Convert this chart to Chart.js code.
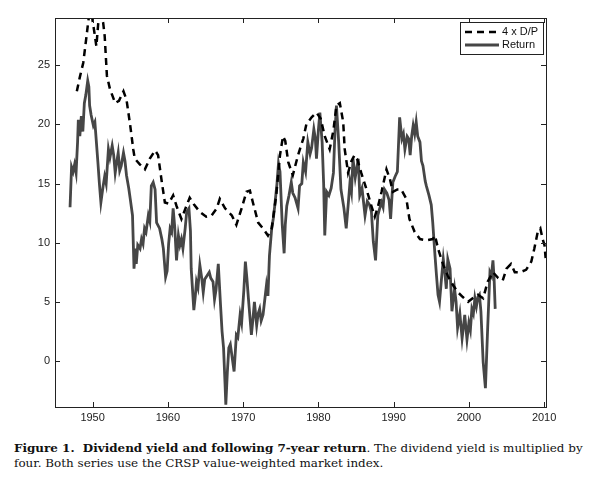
<!DOCTYPE html>
<html>
<head>
<meta charset="utf-8">
<script src="https://cdn.jsdelivr.net/npm/chart.js@4/dist/chart.umd.min.js"></script>
<style>
  body { margin: 0; background: #fff; }
  #wrap { position: relative; width: 600px; height: 486px; }
  #chart { position: absolute; left: 0; top: 0; }
  #caption {
    position: absolute; left: 14px; top: 441px; width: 586px;
    font-family: "DejaVu Serif", serif; font-size: 12.3px; line-height: 14.5px;
    color: #111; white-space: nowrap;
  }
</style>
</head>
<body>
<div id="wrap">
  <canvas id="chart" width="600" height="432"></canvas>
  <div id="caption"><span id="line1"><b>Figure 1.&nbsp; Dividend yield and following 7-year return</b>. The dividend yield is multiplied by</span><br>four. Both series use the CRSP value-weighted market index.</div>
</div>
<script>
// Return series (7-year forward return)
const retYears = [
  1947.0, 1947.2, 1947.4, 1947.6, 1947.8, 1948.0, 1948.1, 1948.3, 1948.5, 1948.7, 1948.9, 1949.1, 1949.35, 1949.5, 1949.6, 1949.8,
  1950.1, 1950.3, 1950.5, 1950.7, 1950.9, 1951.1, 1951.4, 1951.6, 1951.8, 1952.1, 1952.3, 1952.6, 1952.8, 1953.0, 1953.2, 1953.4,
  1953.6, 1953.8, 1954.1, 1954.3, 1954.5, 1954.8, 1955.0, 1955.3, 1955.5, 1955.7, 1955.8, 1956.0, 1956.3, 1956.5, 1956.7, 1956.9,
  1957.1, 1957.4, 1957.6, 1957.8, 1958.05, 1958.3, 1958.5, 1958.9, 1959.2, 1959.4, 1959.7, 1959.9, 1960.1, 1960.3, 1960.5, 1960.7,
  1960.9, 1961.15, 1961.4, 1961.6, 1961.8, 1962.0, 1962.3, 1962.5, 1962.8, 1963.0, 1963.1, 1963.45, 1963.65, 1963.8, 1964.0, 1964.25,
  1964.5, 1964.7, 1964.9, 1965.2, 1965.5, 1965.7, 1966.0, 1966.2, 1966.4, 1966.7, 1967.0, 1967.2, 1967.4, 1967.6, 1967.7, 1967.9,
  1968.1, 1968.3, 1968.5, 1968.8, 1969.1, 1969.3, 1969.6, 1969.8, 1970.1, 1970.3, 1970.5, 1970.7, 1971.1, 1971.3, 1971.5, 1971.8,
  1972.0, 1972.2, 1972.4, 1972.65, 1972.9, 1973.1, 1973.3, 1973.5, 1973.8, 1974.0, 1974.2, 1974.5, 1974.7, 1974.9, 1975.2, 1975.45,
  1975.6, 1975.8, 1976.1, 1976.4, 1976.6, 1976.9, 1977.3, 1977.5, 1977.8, 1978.0, 1978.3, 1978.6, 1978.9, 1979.1, 1979.4, 1979.6,
  1979.75, 1980.0, 1980.2, 1980.5, 1980.7, 1980.85, 1981.1, 1981.4, 1981.7, 1982.0, 1982.2, 1982.4, 1982.7, 1983.0, 1983.4, 1983.7,
  1984.0, 1984.2, 1984.4, 1984.6, 1984.9, 1985.3, 1985.5, 1985.8, 1986.2, 1986.5, 1986.8, 1987.05, 1987.3, 1987.6, 1987.9, 1988.1,
  1988.4, 1988.6, 1988.8, 1989.1, 1989.4, 1989.6, 1989.9, 1990.2, 1990.5, 1990.8, 1991.1, 1991.3, 1991.5, 1991.8, 1992.0, 1992.2,
  1992.4, 1992.6, 1992.8, 1993.0, 1993.2, 1993.5, 1993.7, 1993.9, 1994.2, 1994.35, 1994.7, 1995.0, 1995.2, 1995.5, 1995.7, 1995.9,
  1996.1, 1996.3, 1996.6, 1996.8, 1997.0, 1997.2, 1997.5, 1997.75, 1998.1, 1998.3, 1998.5, 1998.8, 1999.1, 1999.3, 1999.45, 1999.75,
  2000.0, 2000.2, 2000.4, 2000.6, 2000.8, 2001.0, 2001.2, 2001.4, 2001.6, 2001.9, 2002.2, 2002.5, 2002.8, 2003.0, 2003.2, 2003.35,
  2003.5
];
const retValues = [
  13.0, 16.4, 16.0, 16.6, 15.9, 18.5, 20.4, 19.0, 20.7, 19.4, 21.8, 22.5, 23.7, 23.2, 21.6, 20.8,
  19.9, 20.2, 18.5, 16.8, 15.0, 13.4, 14.8, 15.6, 15.0, 17.9, 17.2, 18.2, 17.4, 15.9, 16.8, 17.6,
  16.1, 16.5, 17.6, 16.9, 15.7, 14.6, 13.7, 12.3, 7.8, 9.5, 8.2, 9.8, 9.5, 10.3, 9.9, 11.2,
  10.9, 12.3, 11.8, 14.8, 15.1, 14.5, 11.7, 11.2, 10.3, 9.5, 7.1, 7.6, 9.9, 11.2, 10.9, 12.9,
  11.4, 8.5, 10.6, 9.8, 10.3, 9.5, 11.2, 12.6, 12.9, 11.0, 7.8, 4.3, 5.5, 6.7, 6.2, 8.1,
  7.0, 5.8, 6.9, 7.2, 7.5, 7.0, 6.7, 5.2, 6.0, 8.2, 4.7, 2.5, 1.1, -2.0, -3.7, -1.0,
  1.1, 1.4, 0.5, -0.9, 2.2, 2.0, 3.9, 3.2, 6.0, 8.4, 7.0, 5.3, 2.2, 3.5, 5.0, 3.0,
  4.0, 4.4, 3.4, 3.9, 5.3, 6.4, 5.5, 8.9, 11.2, 12.0, 13.1, 15.0, 16.7, 16.0, 11.5, 9.1,
  11.5, 13.1, 14.0, 15.1, 14.2, 13.8, 12.9, 14.8, 15.0, 16.8, 16.0, 18.5, 17.5, 18.0, 19.6, 18.8,
  17.1, 19.5, 21.0, 18.5, 15.0, 10.6, 14.3, 14.0, 14.6, 15.9, 19.3, 21.6, 18.5, 14.5, 12.9, 11.2,
  13.5, 15.1, 14.3, 17.1, 15.5, 17.1, 14.0, 14.6, 12.3, 13.5, 13.2, 12.6, 10.1, 8.5, 12.3, 12.8,
  13.4, 13.0, 14.5, 14.2, 13.6, 12.0, 15.1, 15.6, 16.0, 20.6, 18.8, 19.2, 17.9, 19.0, 18.8, 17.4,
  19.0, 19.9, 19.2, 20.2, 19.0, 18.5, 16.9, 16.5, 15.2, 14.8, 14.0, 13.2, 11.7, 8.9, 7.2, 5.6,
  5.0, 6.5, 8.6, 7.5, 6.1, 8.6, 7.8, 4.2, 6.1, 5.0, 2.8, 4.0, 1.9, 3.0, 3.9, 1.8,
  3.2, 2.6, 4.4, 4.0, 5.3, 4.6, 5.4, 5.6, 4.2, -0.1, -2.3, 2.8, 7.5, 7.2, 8.5, 7.0,
  4.4
];

// 4 x dividend/price series
const dpYears = [
  1947.9, 1948.3, 1948.75, 1949.2, 1949.4, 1949.6, 1949.9, 1950.3, 1950.5, 1950.75, 1951.1, 1951.4, 1951.6, 1951.9, 1952.3, 1953.0,
  1953.5, 1954.1, 1954.5, 1955.0, 1955.4, 1955.6, 1956.3, 1956.95, 1957.6, 1958.3, 1958.7, 1959.2, 1959.6, 1960.1, 1960.7, 1961.15,
  1961.8, 1962.4, 1962.9, 1963.5, 1964.25, 1965.1, 1965.8, 1966.5, 1966.9, 1967.6, 1968.5, 1969.1, 1969.8, 1970.45, 1970.9, 1971.3,
  1972.0, 1972.65, 1973.3, 1973.8, 1974.4, 1974.9, 1975.3, 1975.6, 1976.0, 1976.6, 1977.3, 1978.0, 1978.4, 1979.1, 1979.75, 1980.3,
  1980.85, 1981.5, 1982.0, 1982.4, 1982.85, 1983.3, 1983.5, 1983.95, 1984.4, 1984.8, 1985.2, 1985.7, 1986.4, 1987.05, 1987.5, 1987.9,
  1988.4, 1989.05, 1989.5, 1989.9, 1990.5, 1991.0, 1991.7, 1992.1, 1992.8, 1993.5, 1994.35, 1995.2, 1995.5, 1995.9, 1996.6, 1997.2,
  1997.9, 1998.55, 1999.2, 1999.9, 2000.5, 2001.2, 2001.9, 2002.5, 2003.2, 2003.9, 2004.5, 2005.0, 2005.6, 2006.1, 2006.8, 2007.6,
  2008.3, 2008.7, 2009.15, 2009.5, 2009.8, 2010.05, 2010.2
];
const dpValues = [
  22.8, 24.0, 25.2, 27.5, 28.6, 29.5, 29.2, 27.5, 26.6, 28.6, 29.3, 28.6, 27.5, 24.1, 23.0, 21.8,
  22.0, 22.8, 22.1, 19.9, 17.9, 17.1, 16.6, 16.2, 17.1, 17.8, 17.4, 15.1, 13.4, 13.3, 14.0, 13.1,
  12.0, 13.0, 13.8, 13.2, 12.6, 12.2, 12.3, 12.9, 13.7, 12.9, 12.3, 11.5, 12.9, 14.3, 14.4, 13.4,
  11.7, 11.2, 10.6, 11.2, 14.0, 17.4, 19.0, 18.6, 16.8, 15.7, 17.4, 18.8, 20.0, 20.6, 21.0, 20.5,
  19.0, 17.9, 19.5, 21.6, 21.8, 20.2, 17.9, 15.9, 16.9, 17.4, 17.0, 15.9, 14.5, 13.1, 12.2, 13.0,
  14.3, 16.2, 15.4, 14.3, 14.5, 14.5, 13.7, 12.0, 10.9, 10.3, 10.2, 10.3, 10.6, 9.5, 8.1, 7.2,
  6.4, 5.8, 5.4, 5.0, 5.3, 5.6, 5.3, 6.7, 7.5, 7.0, 6.8, 7.8, 8.2, 7.5, 7.5, 7.7,
  8.4, 9.5, 10.9, 11.2, 10.3, 9.8, 8.7
];

// Axis ticks
const xTicks = [1950, 1960, 1970, 1980, 1990, 2000, 2010];
const yTicks = [0, 5, 10, 15, 20, 25];

const toPoints = (xs, ys) => xs.map((x, i) => ({ x: x, y: ys[i] }));

const DP_DASH = [7, 5];
const RET_COLOR = '#464646';

// Box frame with inward ticks on all four sides, plus the legend inside the plot
const framePlugin = {
    id: 'frame',
    afterDraw(chart) {
        const ctx = chart.ctx;
        const { left, right, top, bottom } = chart.chartArea;
        const xs = chart.scales.x, ys = chart.scales.y;
        ctx.save();
        ctx.strokeStyle = '#222';
        ctx.lineWidth = 1;
        ctx.strokeRect(Math.round(left) + 0.5, Math.round(top) + 0.5, Math.round(right - left), Math.round(bottom - top));
        ctx.beginPath();
        xTicks.forEach(v => {
            const px = Math.round(xs.getPixelForValue(v)) + 0.5;
            ctx.moveTo(px, bottom); ctx.lineTo(px, bottom - 5);
            ctx.moveTo(px, top); ctx.lineTo(px, top + 5);
        });
        yTicks.forEach(v => {
            const py = Math.round(ys.getPixelForValue(v)) + 0.5;
            ctx.moveTo(left, py); ctx.lineTo(left + 5, py);
            ctx.moveTo(right, py); ctx.lineTo(right - 5, py);
        });
        ctx.stroke();

        // legend
        const bx = 460.5, by = 22.5, bw = 83, bh = 32;
        ctx.fillStyle = '#fff';
        ctx.fillRect(bx, by, bw, bh);
        ctx.strokeStyle = '#222';
        ctx.strokeRect(bx, by, bw, bh);
        const ds = chart.data.datasets;
        ds.forEach((d, i) => {
            const ly = 32 + i * 13;
            ctx.beginPath();
            ctx.strokeStyle = d.borderColor;
            ctx.lineWidth = d.borderWidth;
            ctx.setLineDash(d.borderDash || []);
            ctx.moveTo(465, ly); ctx.lineTo(499, ly);
            ctx.stroke();
            ctx.setLineDash([]);
            ctx.fillStyle = '#111';
            ctx.font = '11px "Liberation Sans", Arial, sans-serif';
            ctx.textBaseline = 'middle';
            ctx.textAlign = 'left';
            ctx.fillText(d.label, 502, ly);
        });
        ctx.restore();
    }
};

new Chart(document.getElementById('chart').getContext('2d'), {
    type: 'line',
    data: {
        datasets: [
            {
                label: '4 x D/P',
                data: toPoints(dpYears, dpValues),
                borderColor: '#000',
                borderWidth: 2.5,
                borderDash: DP_DASH,
                pointRadius: 0,
                tension: 0,
                fill: false,
            },
            {
                label: 'Return',
                data: toPoints(retYears, retValues),
                borderColor: RET_COLOR,
                borderWidth: 2.8,
                pointRadius: 0,
                tension: 0,
                fill: false,
            }
        ]
    },
    options: {
        responsive: false,
        animation: false,
        devicePixelRatio: 1,
        layout: { padding: { top: 18, right: 54, left: 0, bottom: 0 } },
        scales: {
            x: {
                type: 'linear',
                min: 1945,
                max: 2010.25,
                afterFit: s => { s.height = 25; },
                afterBuildTicks: s => { s.ticks = xTicks.map(v => ({ value: v })); },
                grid: { display: false, drawTicks: false },
                border: { display: false },
                ticks: {
                    padding: 4,
                    color: '#222',
                    font: { family: '"Liberation Sans", Arial, sans-serif', size: 11 },
                    callback: v => String(v),
                    maxRotation: 0,
                    autoSkip: false,
                }
            },
            y: {
                type: 'linear',
                min: -3.9,
                max: 29,
                afterFit: s => { s.width = 55; },
                afterBuildTicks: s => { s.ticks = yTicks.map(v => ({ value: v })); },
                grid: { display: false, drawTicks: false },
                border: { display: false },
                ticks: {
                    padding: 5,
                    color: '#222',
                    font: { family: '"Liberation Sans", Arial, sans-serif', size: 11 },
                    callback: v => String(v),
                }
            }
        },
        plugins: {
            legend: { display: false },
            tooltip: { enabled: false }
        }
    },
    plugins: [framePlugin]
});

// stretch the caption so its first line spans the same width as in the figure
const line1 = document.getElementById('line1');
const cap = document.getElementById('caption');
const w = line1.getBoundingClientRect().width;
if (w > 0) {
    cap.style.fontSize = (12.3 * 569 / w).toFixed(2) + 'px';
}
</script>
</body>
</html>
